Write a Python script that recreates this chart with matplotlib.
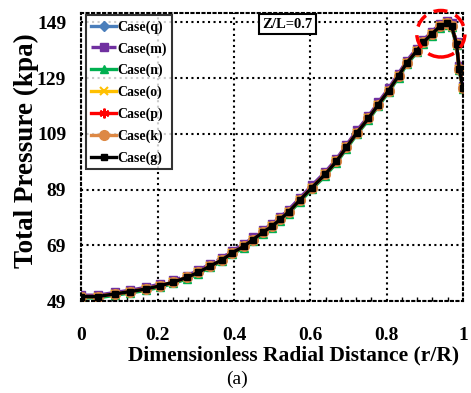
import matplotlib
matplotlib.use("Agg")
import matplotlib.pyplot as plt
from matplotlib.patches import Ellipse
from matplotlib.ticker import MultipleLocator, FuncFormatter

plt.rcParams['font.family'] = ['Liberation Serif', 'DejaVu Serif']
plt.rcParams['font.weight'] = 'bold'

# ===================== Data =====================
r_over_R = [0, 0.042, 0.089, 0.128, 0.168, 0.207, 0.241, 0.277, 0.306, 0.338,
            0.369, 0.395, 0.425, 0.449, 0.475, 0.499, 0.521, 0.543, 0.573, 0.604,
            0.639, 0.668, 0.694, 0.722, 0.752, 0.778, 0.805, 0.831, 0.853, 0.879,
            0.896, 0.918, 0.940, 0.957, 0.970, 0.983, 0.990, 1.0]

p_g = [50.6, 50.6, 51.6, 52.4, 53.3, 54.5, 55.8, 57.5, 59.3, 61.6,
       63.8, 66.3, 68.6, 71.0, 73.6, 75.8, 78.3, 81.0, 85.3, 89.7,
       94.5, 99.1, 104.1, 109.4, 114.5, 119.5, 124.5, 129.8, 134.5, 138.8,
       141.8, 144.8, 147.6, 148.6, 147.8, 141.3, 132.4, 125.5]

p_m = [51.1, 51.1, 52.1, 52.9, 53.9, 55.1, 56.4, 58.1, 60.0, 62.3,
       64.5, 67.0, 69.3, 71.8, 74.4, 76.6, 79.1, 81.8, 86.1, 90.5,
       95.3, 99.9, 104.9, 110.2, 115.3, 120.3, 125.3, 130.6, 135.3, 139.6,
       142.6, 145.6, 148.4, 149.4, 148.6, 142.1, 133.2, 126.3]

p_n = [50.1, 50.1, 51.1, 51.9, 52.8, 54.0, 55.3, 57.0, 58.8, 61.1,
       63.3, 65.8, 68.1, 70.4, 73.0, 75.2, 77.7, 80.4, 84.7, 89.1,
       93.9, 98.5, 103.5, 108.8, 113.9, 118.9, 123.9, 129.2, 133.9, 138.2,
       141.2, 144.2, 147.0, 148.0, 147.2, 140.7, 131.8, 124.9]

p_q = p_g
p_o = p_g
p_p = p_g
p_k = p_g

cases = ["Case(q)", "Case(m)", "Case(n)", "Case(o)", "Case(p)", "Case(k)", "Case(g)"]
series = [p_q, p_m, p_n, p_o, p_p, p_k, p_g]

styles = [
    dict(color='#4a7ebb', marker='D', ms=5, ls='-'),
    dict(color='#7030a0', marker='s', ms=6, ls='--'),
    dict(color='#00b050', marker='^', ms=6, ls='-'),
    dict(color='#ffc000', marker='x', ms=6, ls='-', mew=1.5),
    dict(color='#ff0000', marker=(6, 2, 0), ms=7, ls='-', mew=1.5),
    dict(color='#dd8844', marker='o', ms=7, ls='-'),
    dict(color='#000000', marker='s', ms=4, ls='-'),
]

# ===================== Plot =====================
fig = plt.figure(figsize=(4.71, 3.93), dpi=100)
ax = fig.add_axes([0.173, 0.234, 0.810, 0.734])

for name, vals, st in zip(cases, series, styles):
    ax.plot(r_over_R, vals, label=name, lw=2.4, color=st['color'],
            marker=st['marker'], ms=st['ms'], ls=st['ls'],
            mew=st.get('mew', 1.0))

ax.set_xlim(0, 1)
ax.set_ylim(49, 152.5)
ax.xaxis.set_major_locator(MultipleLocator(0.2))
ax.xaxis.set_minor_locator(MultipleLocator(0.04))
ax.set_yticks([49, 69, 89, 109, 129, 149])
ax.xaxis.set_major_formatter(FuncFormatter(lambda v, p: f"{v:g}"))

ax.grid(True, which='major', color='black', ls=':', lw=1.5)
for sp in ax.spines.values():
    sp.set_linestyle(':')
    sp.set_linewidth(1.5)

ax.tick_params(axis='both', which='major', length=0, labelsize=14)
ax.tick_params(axis='x', which='major', pad=19)
ax.tick_params(axis='y', which='major', pad=11)
ax.tick_params(axis='x', which='minor', direction='in', length=3, width=1)
for lab in ax.get_xticklabels() + ax.get_yticklabels():
    lab.set_fontweight('bold')

ax.set_ylabel("Total Pressure (kpa)", fontsize=19.5, fontweight='bold')
ax.yaxis.set_label_coords(-0.112, 0.52)
ax.set_xlabel("Dimensionless Radial Distance (r/R)", fontsize=15.5, fontweight='bold')
ax.xaxis.set_label_coords(0.555, -0.155)
fig.text(0.503, 0.036, "(a)", fontsize=14, fontweight='normal', ha='center', va='center')

ax.text(0.54, 0.96, "Z/L=0.7", transform=ax.transAxes, fontsize=10.5, fontweight='bold',
        ha='center', va='center',
        bbox=dict(boxstyle='square,pad=0.25', fc='white', ec='black', lw=1.5))

ell = Ellipse((0.942, 144.9), 0.126, 16.7, fill=False, ec='#ff0000', lw=2.5,
              ls=(0, (4, 2.5)), clip_on=False, zorder=5)
ax.add_patch(ell)

leg = ax.legend(loc='upper left', bbox_to_anchor=(0.005, 1.0), fontsize=10,
                frameon=True, fancybox=False, edgecolor='black', handlelength=1.8,
                handletextpad=0.1, borderpad=0.35, labelspacing=0.6, borderaxespad=0.2)
leg.get_frame().set_linewidth(1.5)
for t in leg.get_texts():
    t.set_fontweight('bold')

fig.savefig("out.png", dpi=100)
